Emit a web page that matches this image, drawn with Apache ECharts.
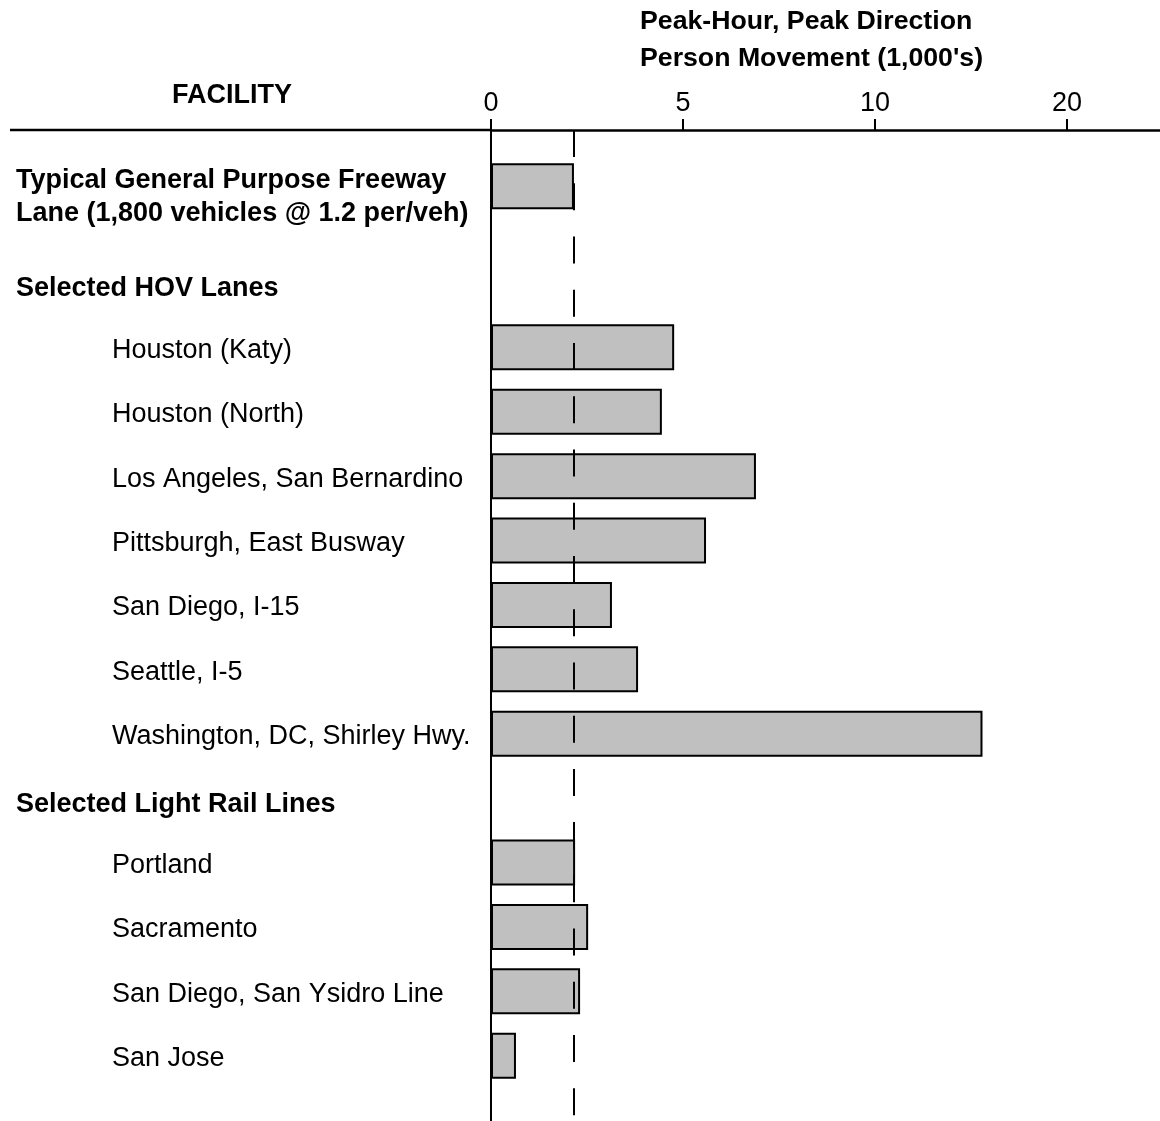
<!DOCTYPE html>
<html>
<head>
<meta charset="utf-8">
<script src="https://cdn.jsdelivr.net/npm/echarts@6/dist/echarts.min.js"></script>
<style>
html, body { margin: 0; padding: 0; background: #fff; }
#chart { width: 1160px; height: 1121px; }
</style>
</head>
<body>
<div id="chart"></div>
<script>
// values in 1,000's of persons
const freewayLabel = ['Typical General Purpose Freeway', 'Lane (1,800 vehicles @ 1.2 per/veh)'];
const freewayValue = 2.16;

const hovHeader = 'Selected HOV Lanes';
const hovLanes = ['Houston (Katy)', 'Houston (North)', 'Los Angeles, San Bernardino', 'Pittsburgh, East Busway',
    'San Diego, I-15', 'Seattle, I-5', 'Washington, DC, Shirley Hwy.'];
const hovValues = [4.77, 4.45, 6.9, 5.6, 3.15, 3.83, 15.6];

const railHeader = 'Selected Light Rail Lines';
const railLines = ['Portland', 'Sacramento', 'San Diego, San Ysidro Line', 'San Jose'];
const railValues = [2.19, 2.53, 2.32, 0.65];

const tickValues = [0, 5, 10, 20];   // axis ticks are evenly spaced, scale is piecewise
const referenceValue = 2.16;         // dashed line = one freeway lane

const FONT = '"Liberation Sans", Arial, sans-serif';

// map a real value onto the piecewise axis (0..1 = 0..5, 1..2 = 5..10, 2..3 = 10..20)
function toAxis(v) {
    let i = 0;
    while (i < tickValues.length - 2 && v > tickValues[i + 1]) i++;
    return i + (v - tickValues[i]) / (tickValues[i + 1] - tickValues[i]);
}

// rows on the category axis, blank slots give the spacing
const rows = [];
function pad(n) { for (let k = 0; k < n; k++) rows.push({ kind: 'blank', label: '', value: null }); }
function addList(names, values) {
    names.forEach((n, i) => {
        rows.push({ kind: 'item', label: n, value: values[i] });
        if (i < names.length - 1) pad(3);
    });
}
pad(3);
rows.push({ kind: 'lead', label: freewayLabel, value: freewayValue });
pad(5);
rows.push({ kind: 'hdr', label: hovHeader, value: null });
pad(3);
addList(hovLanes, hovValues);
pad(3);
rows.push({ kind: 'hdr', label: railHeader, value: null });
pad(3);
addList(railLines, railValues);
pad(4);

const SLOT = 16.1;   // px per category slot
const TOP = 130;

function rowLabel(i) {
    const r = rows[i];
    if (r.kind === 'lead') return r.label.map(s => '{lead|' + s + '}').join('\n');
    if (r.kind === 'hdr') return '{hdr|' + r.label + '}';
    if (r.kind === 'item') return '{item|' + r.label + '}';
    return '';
}

const myChart = echarts.init(document.getElementById('chart'));

const option = {
    animation: false,
    backgroundColor: '#fff',
    title: [
        {
            text: "Peak-Hour, Peak Direction\nPerson Movement (1,000's)",
            left: 640, top: 3, padding: 0,
            textStyle: { fontFamily: FONT, fontSize: 26.7, fontWeight: 'bold', color: '#000', lineHeight: 37 }
        },
        {
            text: 'FACILITY',
            left: 172, top: 82, padding: 0,
            textStyle: { fontFamily: FONT, fontSize: 27, fontWeight: 'bold', color: '#000', lineHeight: 28 }
        }
    ],
    grid: {
        left: 491, right: -2, top: TOP,
        bottom: 1121 - TOP - rows.length * SLOT,
        containLabel: false, outerBoundsMode: 'none'
    },
    xAxis: {
        type: 'value',
        position: 'top',
        min: 0,
        max: 3.495,
        interval: 1,
        axisLine: { show: true, lineStyle: { color: '#000', width: 2.5 } },
        axisTick: { show: true, length: 11, lineStyle: { color: '#000', width: 2 } },
        axisLabel: {
            margin: 13, fontFamily: FONT, fontSize: 27, color: '#000',
            formatter: v => (tickValues[v] !== undefined ? String(tickValues[v]) : '')
        },
        splitLine: { show: false }
    },
    yAxis: {
        type: 'category',
        inverse: true,
        data: rows.map((r, i) => String(i)),
        axisLine: { show: true, lineStyle: { color: '#000', width: 2 } },
        axisTick: { show: false },
        axisLabel: {
            interval: 0,
            align: 'left',
            margin: 475,
            formatter: (v, i) => rowLabel(i),
            rich: {
                lead: { fontFamily: FONT, fontSize: 27, fontWeight: 'bold', color: '#000', lineHeight: 33, padding: [22, 0, 0, 0] },
                hdr: { fontFamily: FONT, fontSize: 27, fontWeight: 'bold', color: '#000', padding: [12, 0, 0, 0] },
                item: { fontFamily: FONT, fontSize: 27, color: '#000', padding: [6, 0, 0, 96] }
            }
        },
        splitLine: { show: false }
    },
    graphic: [
        { type: 'line', shape: { x1: 10, y1: TOP, x2: 491, y2: TOP }, style: { stroke: '#000', lineWidth: 2.5 } }
    ],
    series: [
        {
            type: 'bar',
            data: rows.map(r => (r.value == null ? null : toAxis(r.value))),
            barWidth: 46,
            itemStyle: { color: '#c0c0c0', borderColor: '#000', borderWidth: 2 },
            silent: true,
            markLine: {
                silent: true,
                symbol: 'none',
                label: { show: false },
                lineStyle: { color: '#000', width: 2, type: [27, 26.24] },
                data: [{ xAxis: toAxis(referenceValue) }]
            }
        }
    ]
};

myChart.setOption(option);
window.addEventListener('resize', () => { myChart.resize(); });
</script>
</body>
</html>
